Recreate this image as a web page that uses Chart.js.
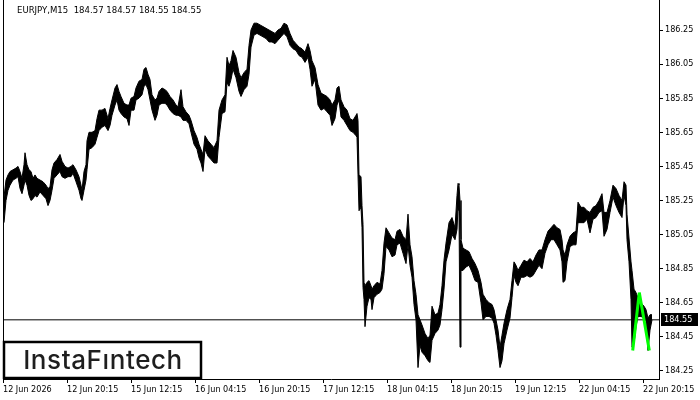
<!DOCTYPE html>
<html>
<head>
<meta charset="utf-8">
<script src="https://cdn.jsdelivr.net/npm/chart.js@4.4.1/dist/chart.umd.min.js"></script>
<style>
  body { margin: 0; background: #fff; }
  canvas { display: block; }
</style>
</head>
<body>
<canvas id="fx" width="700" height="400"></canvas>
<script>
// EURJPY M15 - bar index (1 bar per pixel) with high / low
const barIdx = [
  1,3,5,7,10,13,15,17,19,21,
  22,24,26,28,30,32,34,37,40,43,
  45,47,49,51,54,57,59,62,65,68,
  70,73,76,78,79,81,83,84,86,89,
  92,94,96,99,102,105,107,109,112,114,
  116,118,121,124,126,128,131,133,136,139,
  141,143,145,147,149,152,154,156,159,162,
  164,167,170,173,175,178,180,183,186,188,
  191,194,196,198,200,202,205,208,211,214,
  216,219,222,224,226,228,230,233,236,238,
  241,244,246,248,251,254,257,260,263,266,
  269,272,275,278,281,284,287,290,293,296,
  299,302,305,307,309,312,315,318,321,324,
  327,329,332,334,336,338,341,344,347,350,
  353,354,355,356,358,359,360,361,362,364,
  366,368,369,371,374,377,379,381,383,386,
  389,392,394,397,400,403,405,407,409,411,
  413,415,417,419,422,425,427,429,432,435,
  437,439,441,443,446,449,452,454,455,456,
  457,458,460,463,466,469,472,475,478,480,
  483,486,489,491,493,495,497,499,501,504,
  507,509,511,513,515,518,521,524,527,530,
  533,536,539,542,545,548,551,554,557,559,
  560,562,564,567,570,573,575,578,581,584,
  587,590,593,596,599,601,604,607,610,613,
  616,619,621,623,624,626,628,629,631,633,
  635,638,641,643,645,647,649
];
const highs = [
  185.27,185.37,185.40,185.42,185.43,185.44,185.45,185.42,185.38,185.46,
  185.53,185.46,185.43,185.42,185.38,185.40,185.38,185.37,185.36,185.34,
  185.32,185.33,185.43,185.47,185.49,185.52,185.48,185.45,185.44,185.45,
  185.46,185.43,185.39,185.34,185.31,185.42,185.46,185.60,185.65,185.65,
  185.66,185.73,185.78,185.78,185.79,185.73,185.79,185.84,185.91,185.93,
  185.89,185.86,185.82,185.81,185.81,185.85,185.86,185.91,185.95,185.96,
  186.02,186.03,185.99,185.96,185.87,185.84,185.85,185.89,185.91,185.90,
  185.89,185.86,185.84,185.81,185.80,185.90,185.80,185.77,185.75,185.72,
  185.66,185.62,185.58,185.55,185.52,185.63,185.60,185.58,185.56,185.60,
  185.78,185.84,185.87,186.09,186.04,186.07,186.13,186.09,186.00,185.97,
  186.00,186.02,186.16,186.25,186.29,186.29,186.28,186.27,186.26,186.25,
  186.24,186.23,186.25,186.26,186.29,186.28,186.23,186.19,186.17,186.15,
  186.14,186.12,186.17,186.13,186.07,186.03,185.93,185.88,185.87,185.86,
  185.84,185.81,185.84,185.91,185.92,185.84,185.80,185.78,185.73,185.72,
  185.75,185.76,185.72,185.40,185.39,185.22,185.11,184.77,184.75,184.77,
  184.78,184.75,184.73,184.75,184.77,184.76,184.84,185.00,185.09,185.06,
  185.03,185.02,185.07,185.08,185.04,185.02,185.17,184.99,184.92,184.78,
  184.70,184.58,184.55,184.52,184.47,184.44,184.46,184.63,184.58,184.59,
  184.64,184.75,184.90,185.00,185.12,185.15,185.09,185.28,185.35,185.34,
  185.25,185.02,184.97,184.96,184.95,184.91,184.88,184.84,184.77,184.70,
  184.67,184.65,184.64,184.61,184.55,184.49,184.39,184.46,184.53,184.61,
  184.67,184.78,184.89,184.87,184.84,184.87,184.90,184.89,184.91,184.89,
  184.93,184.96,184.96,185.02,185.07,185.09,185.11,185.09,185.08,185.02,
  184.96,184.93,184.99,185.04,185.06,185.07,185.24,185.21,185.21,185.19,
  185.18,185.21,185.22,185.25,185.29,185.18,185.18,185.25,185.34,185.32,
  185.28,185.25,185.36,185.34,185.17,185.03,184.89,184.84,184.73,184.71,
  184.68,184.65,184.63,184.61,184.56,184.58,184.58
];
const lows = [
  185.12,185.25,185.31,185.34,185.37,185.38,185.39,185.32,185.29,185.34,
  185.37,185.34,185.28,185.25,185.26,185.28,185.27,185.30,185.28,185.26,
  185.22,185.25,185.31,185.38,185.40,185.42,185.39,185.38,185.39,185.39,
  185.41,185.36,185.31,185.26,185.25,185.31,185.37,185.43,185.55,185.56,
  185.58,185.62,185.66,185.68,185.69,185.66,185.69,185.75,185.81,185.84,
  185.78,185.76,185.74,185.73,185.69,185.78,185.78,185.84,185.85,185.87,
  185.92,185.93,185.90,185.84,185.78,185.72,185.75,185.81,185.82,185.82,
  185.81,185.78,185.76,185.75,185.75,185.74,185.72,185.72,185.70,185.65,
  185.58,185.55,185.50,185.47,185.42,185.55,185.51,185.49,185.47,185.47,
  185.62,185.76,185.77,185.94,185.92,185.96,186.02,185.97,185.89,185.86,
  185.90,185.92,185.99,186.15,186.22,186.23,186.22,186.21,186.20,186.18,
  186.18,186.17,186.19,186.21,186.23,186.21,186.16,186.14,186.13,186.10,
  186.09,186.06,186.09,186.02,185.92,185.96,185.81,185.78,185.79,185.77,
  185.75,185.69,185.73,185.81,185.84,185.74,185.72,185.69,185.66,185.65,
  185.63,185.62,185.40,185.19,185.21,185.09,184.74,184.67,184.51,184.63,
  184.68,184.67,184.61,184.68,184.70,184.71,184.73,184.82,184.98,184.96,
  184.92,184.93,184.99,185.00,184.94,184.88,184.99,184.87,184.80,184.64,
  184.55,184.27,184.40,184.36,184.34,184.31,184.30,184.43,184.47,184.49,
  184.52,184.61,184.73,184.89,184.96,185.05,185.02,185.08,185.21,185.19,
  184.39,184.84,184.84,184.86,184.87,184.83,184.78,184.77,184.65,184.55,
  184.57,184.57,184.56,184.53,184.46,184.37,184.27,184.31,184.41,184.49,
  184.56,184.68,184.81,184.77,184.75,184.80,184.80,184.81,184.80,184.81,
  184.84,184.87,184.85,184.94,184.99,185.02,185.02,184.99,184.96,184.89,
  184.77,184.78,184.89,184.98,184.99,184.99,185.12,185.12,185.12,185.14,
  185.06,185.14,185.15,185.18,185.19,185.04,185.08,185.18,185.27,185.22,
  185.18,185.15,185.28,185.22,185.02,184.89,184.67,184.39,184.41,184.51,
  184.57,184.57,184.56,184.54,184.37,184.49,184.55
];

// pattern marker (green) and current bid line
const patternIdx = [629.7, 636.3, 646.3];
const patternVal = [184.37, 184.71, 184.37];
const bidPrice = 184.55;

const timeLabels = ["12 Jun 2026", "12 Jun 20:15", "15 Jun 12:15", "16 Jun 04:15", "16 Jun 20:15",
  "17 Jun 12:15", "18 Jun 04:15", "18 Jun 20:15", "19 Jun 12:15", "22 Jun 04:15", "22 Jun 20:15"];
const priceTicks = [184.25, 184.45, 184.65, 184.85, 185.05, 185.25, 185.45, 185.65, 185.85, 186.05, 186.25];
const headerText = "EURJPY,M15  184.57 184.57 184.55 184.55";

const tickFont = { family: "'DejaVu Sans Condensed', 'Liberation Sans', sans-serif", size: 9 };

const extras = {
  id: "extras",
  afterDraw(chart) {
    const ctx = chart.ctx;
    const area = chart.chartArea;
    const y = chart.scales.y;
    ctx.save();
    // left frame
    ctx.strokeStyle = "#000";
    ctx.lineWidth = 1;
    ctx.beginPath();
    ctx.moveTo(area.left + 0.5, area.top);
    ctx.lineTo(area.left + 0.5, area.bottom);
    ctx.stroke();

    // header
    ctx.fillStyle = "#000";
    ctx.font = "9.5px " + tickFont.family;
    ctx.textBaseline = "middle";
    ctx.textAlign = "left";
    ctx.fillText(headerText, 17, 11);

    // bid price tag
    ctx.font = "9px " + tickFont.family;
    const py = Math.round(y.getPixelForValue(bidPrice));
    ctx.fillStyle = "#000";
    ctx.fillRect(661, py - 7, 37, 13);
    ctx.fillStyle = "#fff";
    ctx.fillText(bidPrice.toFixed(2), 664, py);

    // logo
    ctx.fillStyle = "#fff";
    ctx.fillRect(4, 342, 197, 36);
    ctx.strokeStyle = "#000";
    ctx.lineWidth = 2.5;
    ctx.strokeRect(4, 342, 197, 36);
    ctx.fillStyle = "#1e1e1e";
    ctx.font = "500 26px Inter, 'Noto Sans', sans-serif";
    ctx.letterSpacing = "0.6px";
    ctx.textAlign = "center";
    ctx.fillText("InstaF\u0131ntech", 103, 361);
    ctx.restore();
  }
};

new Chart("fx", {
  type: "line",
  data: {
    datasets: [{
      label: "pattern",
      data: patternIdx.map((x, i) => ({ x: x, y: patternVal[i] })),
      borderColor: "#00ff00",
      borderWidth: 3,
      borderJoinStyle: "bevel",
      pointRadius: 0,
      fill: false
    }, {
      label: "bid",
      data: [{ x: 0, y: bidPrice }, { x: 656, y: bidPrice }],
      borderColor: "#000",
      borderWidth: 1,
      pointRadius: 0,
      fill: false
    }, {
      label: "high",
      data: barIdx.map((x, i) => ({ x: x, y: highs[i] })),
      borderColor: "#000",
      borderWidth: 1,
      pointRadius: 0,
      fill: false
    }, {
      label: "low",
      data: barIdx.map((x, i) => ({ x: x, y: lows[i] })),
      borderColor: "#000",
      borderWidth: 1,
      pointRadius: 0,
      backgroundColor: "#000",
      fill: "-1"
    }]
  },
  options: {
    responsive: false,
    animation: false,
    layout: { padding: { left: 3, top: 0, right: 0, bottom: 0 } },
    plugins: { legend: { display: false }, tooltip: { enabled: false } },
    scales: {
      x: {
        type: "linear",
        min: 0,
        max: 656,
        afterBuildTicks: s => { s.ticks = timeLabels.map((t, i) => ({ value: i * 64 })); },
        afterFit: s => { s.height = 21; s.paddingLeft = 0; s.paddingRight = 0; },
        grid: { drawOnChartArea: false, drawTicks: true, tickLength: 4, color: "#000" },
        border: { display: true, color: "#000", width: 1 },
        ticks: {
          autoSkip: false,
          maxRotation: 0,
          align: "start",
          padding: 1,
          color: "#000",
          font: tickFont,
          callback: (v, i) => timeLabels[i]
        }
      },
      y: {
        position: "right",
        min: 184.203,
        max: 186.426,
        afterBuildTicks: s => { s.ticks = priceTicks.map(v => ({ value: v })); },
        afterFit: s => { s.width = 41; s.paddingTop = 0; s.paddingBottom = 0; },
        grid: { drawOnChartArea: false, drawTicks: true, tickLength: 4, color: "#000" },
        border: { display: true, color: "#000", width: 1 },
        ticks: {
          padding: 2,
          color: "#000",
          font: tickFont,
          callback: v => v.toFixed(2)
        }
      }
    }
  },
  plugins: [extras]
});
</script>
</body>
</html>
